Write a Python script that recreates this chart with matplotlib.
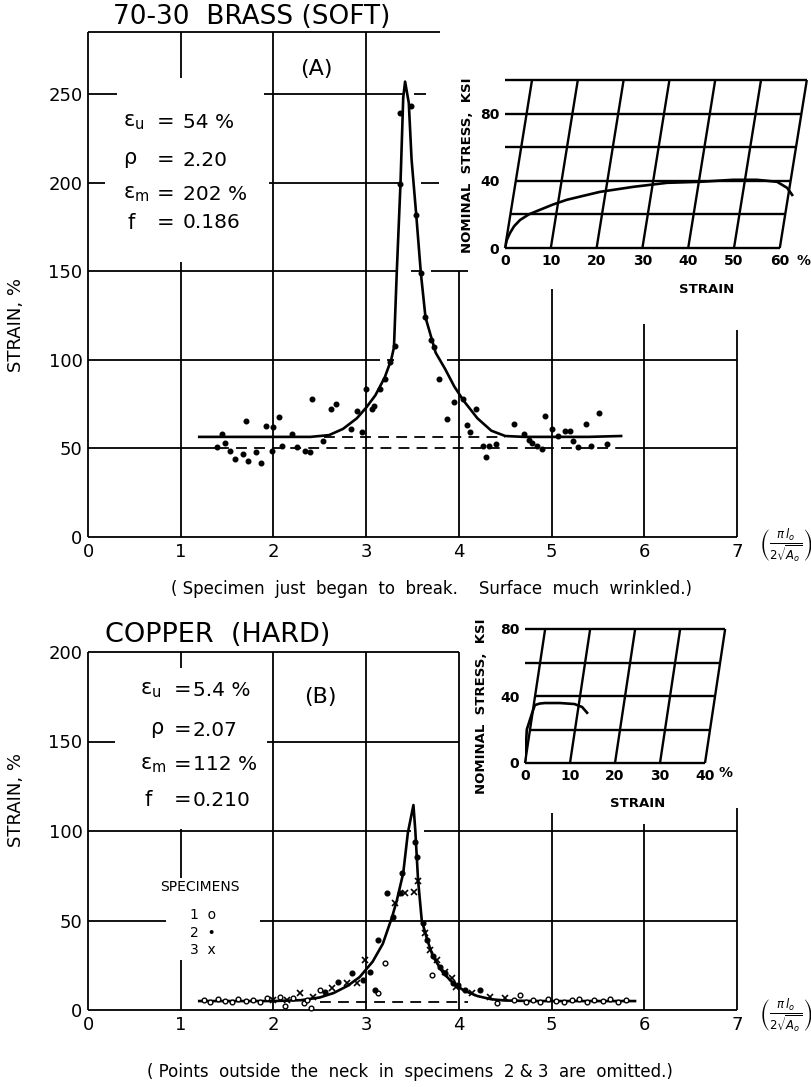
import matplotlib
matplotlib.use("Agg")
import matplotlib.pyplot as plt
import matplotlib.transforms as mtransforms

plt.rcParams['font.family'] = ['DejaVu Sans']
plt.rcParams['mathtext.fontset'] = 'dejavusans'

# ---------------- data ----------------
x_ticks = [0, 1, 2, 3, 4, 5, 6, 7]
brass_yticks = [0, 50, 100, 150, 200, 250]
copper_yticks = [0, 50, 100, 150, 200]

# (A) 70-30 brass: fitted strain distribution along the specimen
brass_curve_x = [1.2, 1.6, 2.0, 2.4, 2.6, 2.75, 2.9, 3.0, 3.1, 3.2, 3.27, 3.30, 3.33,
                 3.37, 3.40, 3.42, 3.46, 3.49, 3.54, 3.59, 3.64, 3.75, 3.85, 3.95,
                 4.05, 4.2, 4.35, 4.5, 4.7, 5.0, 5.4, 5.75]
brass_curve_y = [56.5, 56.5, 56.5, 56.5, 57.5, 61, 67, 73, 80, 90, 100, 107, 149,
                 199, 248, 257, 245, 213, 182, 149, 124, 104, 95, 85,
                 77, 67, 60, 57, 56.5, 56.5, 56.5, 57]
brass_pts_x = [1.45, 1.48, 1.39, 1.53, 1.59, 1.67, 1.70, 1.73, 1.81, 1.87, 1.92, 2.00,
               1.98, 2.06, 2.09, 2.20, 2.25, 2.34, 2.39, 2.42, 2.53, 2.62, 2.67, 2.84,
               2.90, 2.95, 3.00, 3.06, 3.09, 3.15, 3.20, 3.26, 3.31, 3.37, 3.37, 3.48,
               3.54, 3.59, 3.64, 3.70, 3.73, 3.79, 3.87, 3.95, 4.04, 4.09, 4.12, 4.18,
               4.26, 4.29, 4.32, 4.40, 4.59, 4.70, 4.76, 4.79, 4.84, 4.90, 4.93, 5.01,
               5.07, 5.15, 5.20, 5.23, 5.29, 5.37, 5.43, 5.51, 5.60]
brass_pts_y = [58, 53, 50.6, 48.7, 44, 46.8, 65.7, 43, 47.7, 42, 62.8, 62,
               48.7, 67.5, 51.5, 58, 50.6, 48.7, 47.7, 78, 54, 72, 75, 61,
               71, 59, 83.6, 72, 74, 83.6, 89, 98.7, 108, 239.5, 199, 243,
               182, 149, 124, 111, 107, 89, 66.6, 76, 78, 63, 59, 72,
               51.5, 45, 51.5, 52.5, 63.8, 58, 55, 53, 51.5, 49.6, 68.5, 61,
               57, 60, 60, 54, 50.6, 63.8, 51.5, 70, 52.5]

# (B) hard copper
copper_curve_x = [1.2, 1.6, 2.0, 2.3, 2.5, 2.65, 2.8, 2.93, 3.07, 3.18, 3.28, 3.33,
                  3.40, 3.45, 3.51, 3.53, 3.56, 3.60, 3.66, 3.72, 3.83, 3.94, 4.05,
                  4.2, 4.35, 4.5, 4.8, 5.3, 5.9]
copper_curve_y = [5, 5, 5, 5.5, 7, 9.5, 13.5, 18.4, 27, 37, 52, 61,
                  76.5, 99, 114.5, 100.5, 72.6, 50, 39, 30, 20.7, 15, 11,
                  7.8, 6, 5.3, 5, 5, 5]
# specimen 1 (open circles)
copper_s1_x = [1.25, 1.32, 1.40, 1.48, 1.55, 1.62, 1.70, 1.78, 1.85, 1.93, 2.07, 2.13,
               2.21, 2.33, 2.36, 2.40, 2.50, 3.13, 3.20, 3.71, 4.41, 4.60, 4.66,
               4.72, 4.80, 4.88, 4.96, 5.05, 5.13, 5.22, 5.30, 5.38, 5.46, 5.55,
               5.63, 5.72, 5.80]
copper_s1_y = [5.5, 4.5, 6, 5, 4.5, 6, 5, 5.5, 4.5, 6.7, 7.3, 2,
               6.7, 4, 5.6, 1.1, 11, 9.5, 26.3, 19.6, 3.9, 5.6, 8.4,
               4.5, 5.5, 4.5, 6, 5, 4.5, 5.5, 6, 4.5, 5.5, 5,
               6, 4.5, 5.5]
# specimen 2 (solid dots)
copper_s2_x = [3.23, 3.29, 3.37, 3.39, 3.53, 3.55, 3.61, 3.66, 3.72, 3.80, 3.94, 3.13,
               3.04, 2.97, 2.85, 2.70, 2.56, 3.10, 4.07, 4.23, 3.85, 3.99]
copper_s2_y = [65.4, 52, 65.4, 76.5, 94, 85.5, 48.6, 39, 30, 24, 15, 39,
               21, 16.8, 20.7, 15.6, 10, 11, 11, 11, 20.7, 14]
# specimen 3 (crosses)
copper_s3_x = [3.31, 3.42, 3.56, 3.52, 3.63, 3.69, 3.85, 3.97, 2.99, 2.90, 2.79, 2.63,
               2.43, 2.29, 2.15, 2.00, 4.14, 4.34, 4.50, 3.76, 3.93]
copper_s3_y = [59.8, 65.4, 72, 66, 43, 33.5, 21, 13, 28, 15, 15, 12.3,
               7.3, 9.5, 5.6, 5.6, 9.5, 7.3, 6.7, 28, 18]

# Nominal stress-strain curves (insets)
brass_ss_strain = [0, 0.4, 1.1, 2.0, 3.3, 5.2, 7.6, 10.4, 13.5, 20.7, 28, 35.4,
                   42.6, 49.8, 55, 59.4, 61.6, 62.7]
brass_ss_stress = [0, 4.8, 9, 13, 16.7, 20, 22.7, 25.8, 28.7, 33.4, 36.4, 38.8,
                   39.4, 40.6, 40.6, 39.4, 35.8, 31.6]
brass_ss_xticks = [0, 10, 20, 30, 40, 50, 60]
brass_ss_yticks = [0, 40, 80]
brass_ss_hlines = [0, 20, 40, 60, 80, 100]

copper_ss_strain = [0, 0.4, 1.6, 2.2, 3.3, 4.4, 7.8, 11, 12.7, 13.8]
copper_ss_stress = [0, 20, 30, 34.6, 35.5, 35.8, 35.8, 35.2, 33.4, 30]
copper_ss_xticks = [0, 10, 20, 30, 40]
copper_ss_yticks = [0, 40, 80]
copper_ss_hlines = [0, 20, 40, 60, 80]

# ---------------- layout ----------------
W, H = 812, 1087
fig = plt.figure(figsize=(W / 100, H / 100), dpi=100)
fig.patch.set_facecolor('white')

GRID_LW = 1.3
CURVE_LW = 1.9
K = 'black'


def px_axes(left, top, right, bottom):
    return fig.add_axes([left / W, 1 - bottom / H, (right - left) / W, (bottom - top) / H])


def ftext(px, py, s, **kw):
    kw.setdefault('ha', 'center')
    kw.setdefault('va', 'center')
    fig.text(px / W, 1 - py / H, s, **kw)


def draw_grid(ax, hsegs, vsegs, ls='-'):
    for y, x0, x1 in hsegs:
        ax.plot([x0, x1], [y, y], color=K, lw=GRID_LW, ls=ls, clip_on=False,
                solid_capstyle='butt', zorder=1)
    for x, y0, y1 in vsegs:
        ax.plot([x, x], [y0, y1], color=K, lw=GRID_LW, ls=ls, clip_on=False,
                solid_capstyle='butt', zorder=1)


def style_main(ax, yticks, ylim, ylabel_y):
    ax.set_xlim(0, 7)
    ax.set_ylim(*ylim)
    for sp in ax.spines.values():
        sp.set_visible(False)
    ax.set_xticks(x_ticks)
    ax.set_xticklabels([str(t) for t in x_ticks])
    ax.set_yticks(yticks)
    ax.set_yticklabels([str(t) for t in yticks])
    ax.tick_params(length=0, labelsize=13, pad=4)
    ax.set_ylabel('STRAIN, %', fontsize=13, labelpad=0)
    ax.yaxis.set_label_coords(-0.097, ylabel_y)
    ax.set_facecolor('none')


def sheared_inset(ax, xmax, ymax, shear, hlines, xticks, yticks, tick_ext,
                  ylab_xy, xlab_xy, pct_x):
    ax.set_xlim(0, xmax)
    ax.set_ylim(0, ymax)
    for sp in ax.spines.values():
        sp.set_visible(False)
    ax.set_facecolor('white')
    lw = 1.7
    right = xticks[-1]
    for s in hlines:
        x0 = 0 if s in tick_ext else shear * s
        ax.plot([x0, right + shear * s], [s, s], color=K, lw=lw, clip_on=False,
                solid_capstyle='butt')
    for e in xticks:
        ax.plot([e, e + shear * hlines[-1]], [0, hlines[-1]], color=K, lw=lw,
                clip_on=False, solid_capstyle='butt')
    ax.set_xticks(xticks)
    ax.set_xticklabels([str(t) for t in xticks], fontweight='bold')
    ax.set_yticks(yticks)
    ax.set_yticklabels([str(t) for t in yticks], fontweight='bold')
    ax.tick_params(length=0, labelsize=10, pad=4)
    ax.set_ylabel('NOMINAL  STRESS,  KSI', fontsize=9.5, fontweight='bold')
    ax.yaxis.set_label_coords(*ylab_xy)
    ax.set_xlabel('STRAIN', fontsize=9.5, fontweight='bold')
    ax.xaxis.set_label_coords(*xlab_xy)
    tr = mtransforms.blended_transform_factory(ax.transData, ax.transAxes)
    ax.text(pct_x, -0.075, '%', transform=tr, fontsize=10, fontweight='bold',
            ha='center', va='center')


# ---------------- (A) brass ----------------
axA = px_axes(88, 32, 737, 537)
style_main(axA, brass_yticks, (0, 285), 0.42)
A_h = [(285, 0, 3.8), (250, 0, 0.31), (250, 1.9, 3.41), (250, 3.52, 3.65),
       (200, 0, 0.18), (200, 1.95, 3.37), (200, 3.59, 3.79),
       (150, 0, 3.32), (150, 3.48, 3.58), (150, 3.7, 4.1),
       (100, 0, 3.15), (100, 3.22, 3.3), (100, 3.87, 7),
       (50, 0, 1.4), (50, 5.75, 7), (0, 0, 7)]
A_v = [(0, 0, 285), (1, 259, 285), (1, 0, 155), (2, 0, 285), (3, 0, 285),
       (4, 0, 150), (5, 0, 140), (6, 0, 120), (7, 0, 117)]
draw_grid(axA, A_h, A_v)
axA.plot([1.4, 5.75], [50, 50], color=K, lw=GRID_LW, ls=(0, (6, 4)), clip_on=False)
axA.plot([2.55, 4.5], [56.5, 56.5], color=K, lw=GRID_LW, ls=(0, (6, 4)), clip_on=False)
axA.plot(brass_curve_x, brass_curve_y, color=K, lw=CURVE_LW, zorder=3, clip_on=False)
axA.plot(brass_pts_x, brass_pts_y, 'o', color=K, ms=3.3, zorder=4, clip_on=False)

# ---------------- (B) copper ----------------
axB = px_axes(88, 652, 737, 1010)
style_main(axB, copper_yticks, (0, 200), 0.587)
B_h = [(200, 0, 4.0), (150, 0, 0.29), (150, 1.93, 4.0),
       (100, 0, 3.48), (100, 3.62, 7), (50, 0, 0.84), (50, 1.85, 7), (0, 0, 7)]
B_v = [(0, 0, 200), (1, 191, 200), (1, 74, 101), (1, 0, 28), (2, 0, 200),
       (3, 0, 200), (4, 0, 200), (5, 0, 110), (6, 0, 104), (7, 0, 113)]
draw_grid(axB, B_h, B_v)
axB.plot([2.5, 4.1], [4.5, 4.5], color=K, lw=GRID_LW, ls=(0, (6, 4)), clip_on=False)
axB.plot(copper_curve_x, copper_curve_y, color=K, lw=CURVE_LW, zorder=3, clip_on=False)
axB.plot(copper_s1_x, copper_s1_y, 'o', mfc='white', mec=K, mew=1.0, ms=3.4,
         zorder=4, clip_on=False)
axB.plot(copper_s2_x, copper_s2_y, 'o', color=K, ms=3.4, zorder=4, clip_on=False)
axB.plot(copper_s3_x, copper_s3_y, 'x', color=K, ms=4.0, mew=1.2, zorder=4,
         clip_on=False)

# ---------------- insets ----------------
insA = px_axes(505, 80, 805, 248)
insA.plot(brass_ss_strain, brass_ss_stress, color=K, lw=CURVE_LW, zorder=3)
sheared_inset(insA, 300 / 4.58, 100, 0.059, brass_ss_hlines, brass_ss_xticks,
              brass_ss_yticks, (60, 80, 100), (-0.103, 0.49), (0.673, -0.21), 65.2)

insB = px_axes(525, 629, 727, 763)
insB.plot(copper_ss_strain, copper_ss_stress, color=K, lw=CURVE_LW, zorder=3)
sheared_inset(insB, 202 / 4.5, 80, 0.056, copper_ss_hlines, copper_ss_xticks,
              copper_ss_yticks, (60, 80), (-0.185, 0.42), (0.56, -0.255), 44.5)

# ---------------- text ----------------
ftext(252, 17, '70-30  BRASS (SOFT)', fontsize=19)
ftext(218, 635, 'COPPER  (HARD)', fontsize=19.5)
ftext(316, 69, '(A)', fontsize=16)
ftext(320, 697, '(B)', fontsize=16)

eps_u = r'$\mathrm{\varepsilon}_{\mathrm{u}}$'
eps_m = r'$\mathrm{\varepsilon}_{\mathrm{m}}$'
rho = r'$\mathrm{\rho}$'

params_A = [(eps_u, '54 %', 122, 123),
            (rho, '2.20', 160, 123),
            (eps_m, '202 %', 194, 123),
            ('f', '0.186', 223, 128)]
for sym, val, py, px in params_A:
    ftext(px, py, sym, fontsize=15, ha='left')
    ftext(157, py, '=', fontsize=15, ha='left')
    ftext(183, py, val, fontsize=14.5, ha='left')

params_B = [(eps_u, '5.4 %', 690, 140),
            (rho, '2.07', 730, 150),
            (eps_m, '112 %', 765, 140),
            ('f', '0.210', 800, 145)]
for sym, val, py, px in params_B:
    ftext(px, py, sym, fontsize=15, ha='left')
    ftext(174, py, '=', fontsize=15, ha='left')
    ftext(193, py, val, fontsize=14.5, ha='left')

ftext(200, 887, 'SPECIMENS', fontsize=10)
ftext(190, 915, '1  o', fontsize=10, ha='left')
ftext(190, 933, '2  \u2022', fontsize=10, ha='left')
ftext(190, 950, '3  x', fontsize=10, ha='left')

frac = r'$\left(\frac{\pi\, l_o}{2\sqrt{A_o}}\right)$'
ftext(786, 545, frac, fontsize=12)
ftext(786, 1015, frac, fontsize=12)

ftext(432, 589, '( Specimen  just  began  to  break.    Surface  much  wrinkled.)',
      fontsize=12)
ftext(410, 1072, '( Points  outside  the  neck  in  specimens  2 & 3  are  omitted.)',
      fontsize=12)

fig.savefig('out.png', dpi=100, facecolor='white')
